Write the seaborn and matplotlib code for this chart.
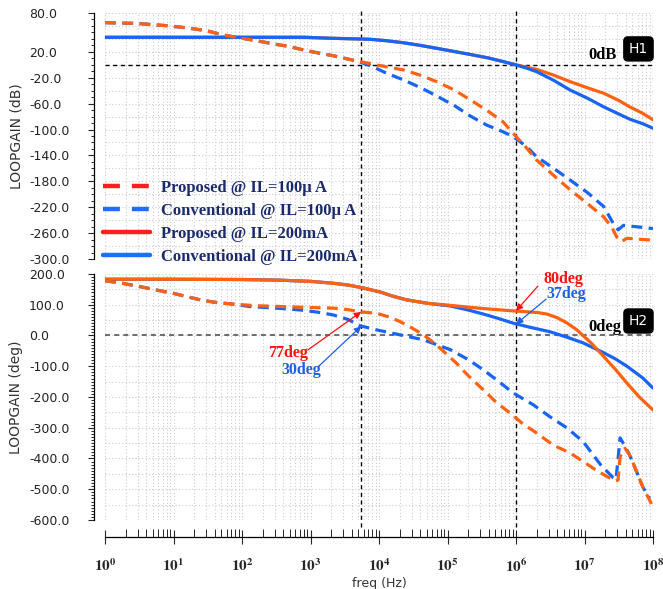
import numpy as np
import matplotlib
matplotlib.use('Agg')
import matplotlib.pyplot as plt
import seaborn as sns
from matplotlib.lines import Line2D
from matplotlib.font_manager import FontProperties
from matplotlib.ticker import FixedLocator, MultipleLocator, FuncFormatter, LogLocator, NullFormatter

# ---------------- data (log10 of frequency in Hz) ----------------
# Loop gain magnitude (dB)
mag_p100_logf = [0, 0.45, 0.9, 1.2, 1.48, 1.73, 2.0, 2.21, 2.45, 2.7, 2.94, 3.33, 3.67, 3.87, 4.0,
                 4.2, 4.36, 4.6, 4.84, 5.1, 5.33, 5.57, 5.81, 5.96, 6.15, 6.3, 6.55, 6.79, 7.05,
                 7.28, 7.4, 7.47, 7.54, 7.62, 8.0]
mag_p100_db = [65, 64, 60.4, 57, 52.7, 46, 41, 37.2, 32.5, 28, 21.8, 14, 5.9, 2, -1,
               -5, -8, -16, -26, -39, -54, -70, -88, -106, -128, -147, -171, -193, -215,
               -235, -251, -266, -273, -268, -271]

mag_c100_logf = [0, 0.45, 0.9, 1.2, 1.48, 1.73, 2.0, 2.21, 2.45, 2.7, 2.94, 3.33, 3.67, 3.87, 4.11,
                 4.36, 4.6, 4.84, 5.1, 5.33, 5.57, 5.8, 5.96, 6.15, 6.3, 6.55, 6.79, 7.05, 7.28,
                 7.42, 7.49, 7.57, 8.0]
mag_c100_db = [65, 64, 60.4, 57, 52.7, 46, 41, 37.2, 32.5, 28, 21.8, 14, 5.9, -1, -13,
               -23.5, -35, -48, -63, -79, -93, -103, -111, -126, -142, -160, -178, -198, -219,
               -245, -255, -248, -253]

mag_p200_logf = [0, 1, 2, 2.9, 3.3, 3.87, 4.1, 4.36, 4.6, 4.84, 5.1, 5.33, 5.6, 5.81, 5.96, 6.15,
                 6.3, 6.55, 6.79, 7.0, 7.28, 7.5, 7.66, 7.85, 8.0]
mag_p200_db = [42.5, 42.5, 42.5, 42.5, 41, 39.4, 37.3, 34, 30, 25.5, 20.5, 16, 10.5, 5, 1, -3.5,
               -7, -16, -26, -34, -44, -55, -65, -75, -85]

mag_c200_logf = [0, 1, 2, 2.9, 3.3, 3.87, 4.1, 4.36, 4.6, 4.84, 5.1, 5.33, 5.6, 5.81, 5.96, 6.15,
                 6.3, 6.55, 6.79, 7.05, 7.28, 7.5, 7.66, 7.85, 8.0]
mag_c200_db = [42.5, 42.5, 42.5, 42.5, 41, 39.4, 37.3, 34, 30, 25.5, 20.5, 16, 10.5, 5, 1, -5,
               -10.6, -24, -39, -52, -65, -76, -84, -91, -98]

# Loop gain phase (deg)
ph_p100_logf = [0, 0.25, 0.51, 0.75, 1.0, 1.2, 1.39, 1.6, 1.87, 2.2, 2.6, 3.0, 3.33, 3.55, 3.72, 3.97,
                4.15, 4.31, 4.5, 4.65, 4.75, 4.89, 5.13, 5.3, 5.52, 5.7, 5.91, 6.1, 6.3, 6.54,
                6.79, 6.98, 7.15, 7.33, 7.45, 7.49, 7.52, 7.59, 7.65, 7.71, 7.85, 8.0]
ph_p100_deg = [178, 170, 159, 148, 137, 126, 116, 108, 102, 97, 94, 91, 89, 84, 77, 72,
               60, 45, 22, 2, -15, -41, -90, -130, -176, -215, -252, -287, -317, -356,
               -382, -410, -435, -459, -473, -470, -394, -367, -385, -415, -492, -557]

ph_c100_logf = [0, 0.25, 0.51, 0.75, 1.0, 1.2, 1.39, 1.6, 1.87, 2.12, 2.5, 2.85, 3.1, 3.33, 3.55,
                3.72, 3.97, 4.31, 4.65, 5.04, 5.3, 5.52, 5.75, 5.96, 6.25, 6.5, 6.74, 6.98, 7.23,
                7.42, 7.46, 7.52, 7.59, 7.65, 7.71, 7.85, 7.95]
ph_c100_deg = [178, 170, 159, 148, 137, 126, 116, 108, 102, 94, 89, 83, 76, 67, 52,
               32, 18, 2, -14, -46, -78, -111, -150, -187, -225, -265, -300, -345, -419,
               -463, -468, -333, -360, -385, -415, -492, -530]

ph_p200_logf = [0, 1, 2, 2.55, 3.0, 3.33, 3.55, 3.72, 4.01, 4.2, 4.4, 4.7, 5.04, 5.5, 5.96, 6.3,
                6.45, 6.6, 6.75, 6.89, 7.1, 7.27, 7.45, 7.62, 7.8, 8.0]
ph_p200_deg = [183, 183, 182, 180, 176, 170, 164, 157, 142, 128, 116, 105, 98, 88, 80, 75,
               70, 58, 40, 18, -25, -66, -110, -155, -200, -242]

ph_c200_logf = [0, 1, 2, 2.55, 3.0, 3.33, 3.55, 3.72, 4.01, 4.2, 4.4, 4.7, 5.04, 5.3, 5.52, 5.75,
                5.96, 6.2, 6.5, 6.75, 6.98, 7.27, 7.45, 7.62, 7.85, 8.0]
ph_c200_deg = [183, 183, 182, 180, 176, 170, 164, 157, 142, 128, 116, 105, 96, 83, 70, 55,
               40, 27, 12, -6, -24, -55, -76, -100, -138, -171]

crossover_freqs = [5.5e3, 1.0e6]       # unity-gain frequencies (Hz)
pm_100 = [77, 30]                      # phase margins at IL=100uA (proposed, conventional)
pm_200 = [80, 37]                      # phase margins at IL=200mA (proposed, conventional)

legend_labels = ['Proposed @ IL=100µ A', 'Conventional @ IL=100µ A',
                 'Proposed @ IL=200mA', 'Conventional @ IL=200mA']
mag_ticks = [80, 20, -20, -60, -100, -140, -180, -220, -260, -300]
phase_ticks = [200, 100, 0, -100, -200, -300, -400, -500, -600]

# ---------------- styling ----------------
ORANGE = '#FF6212'
BLUE = '#1764F5'
LEG_RED = '#FF1E1E'
LEG_BLUE = '#1E6EFF'
NAVY = '#1B2A6B'
GRID_C = '#cccccc'
GRID_LS = (0, (1, 2.0))
DASH = (0, (3.4, 2.0))
XDASH = (0, (3, 2.5))

sns.set_style('white')
plt.rcParams['font.family'] = ['DejaVu Sans']
plt.rcParams['mathtext.fontset'] = 'stix'

W, H = 663, 589
fig = plt.figure(figsize=(W / 100, H / 100), dpi=100)


def px_axes(x0, y0, x1, y1):
    return fig.add_axes([x0 / W, 1 - y1 / H, (x1 - x0) / W, (y1 - y0) / H])


ax1 = px_axes(105, 13, 653, 259)
ax2 = px_axes(105, 274, 653, 520)

for ax in (ax1, ax2):
    ax.set_facecolor('white')
    ax.set_xscale('log')
    ax.set_xlim(1, 1e8)
    for s in ('top', 'right'):
        ax.spines[s].set_visible(False)
    ax.spines['left'].set_position(('outward', 8))
    ax.spines['left'].set_color('black')
    ax.spines['left'].set_linewidth(0.9)
    ax.xaxis.set_major_locator(LogLocator(base=10, numticks=20))
    ax.xaxis.set_minor_locator(LogLocator(base=10, subs=np.arange(2, 10), numticks=200))
    ax.xaxis.set_minor_formatter(NullFormatter())
    ax.grid(True, which='both', axis='x', color=GRID_C, ls=GRID_LS, lw=0.8)
    ax.set_axisbelow(True)
    ax.tick_params(axis='y', which='major', direction='out', length=4.5, width=0.8,
                   pad=42.2, labelsize=9, labelcolor='#222222', left=True)
    ax.tick_params(axis='y', which='minor', direction='out', length=2.5, width=0.7, left=True)

ax1.set_ylim(-300, 80)
ax2.set_ylim(-600, 200)
ax1.yaxis.set_major_locator(FixedLocator(mag_ticks))
ax1.yaxis.set_minor_locator(MultipleLocator(10))
ax2.yaxis.set_major_locator(FixedLocator(phase_ticks))
ax2.yaxis.set_minor_locator(MultipleLocator(10))
for ax in (ax1, ax2):
    ax.yaxis.set_major_formatter(FuncFormatter(lambda v, p: '%.1f' % v))

# horizontal grid
for v in np.arange(-300, 81, 20):
    ax1.axhline(v, color=GRID_C, ls=GRID_LS, lw=0.8, zorder=0)
for v in np.arange(-600, 201, 50):
    ax2.axhline(v, color=GRID_C, ls=GRID_LS, lw=0.8, zorder=0)

# x axes
ax1.spines['bottom'].set_visible(False)
ax1.tick_params(axis='x', which='both', bottom=False, labelbottom=False)
ax2.spines['bottom'].set_position(('outward', 12))
ax2.spines['bottom'].set_color('black')
ax2.spines['bottom'].set_linewidth(0.9)
ax2.tick_params(axis='x', which='major', direction='inout', length=10, width=0.8,
                pad=10, labelsize=11, bottom=True)
ax2.tick_params(axis='x', which='minor', direction='in', length=6, width=0.7, bottom=True)
ax2.xaxis.set_major_formatter(FuncFormatter(
    lambda v, p: r'$\mathbf{10^{%d}}$' % int(round(np.log10(v)))))


# ---------------- curves ----------------
def draw(ax, logf, vals, color, dashed, z):
    f = 10.0 ** np.asarray(logf, dtype=float)
    sns.lineplot(x=f, y=vals, ax=ax, color=color, lw=2.3,
                 linestyle=DASH if dashed else '-', legend=False, zorder=z,
                 sort=False, estimator=None)


draw(ax1, mag_p200_logf, mag_p200_db, ORANGE, False, 3)
draw(ax1, mag_c200_logf, mag_c200_db, BLUE, False, 4)
draw(ax1, mag_c100_logf, mag_c100_db, BLUE, True, 5)
draw(ax1, mag_p100_logf, mag_p100_db, ORANGE, True, 6)

draw(ax2, ph_c200_logf, ph_c200_deg, BLUE, False, 3)
draw(ax2, ph_p200_logf, ph_p200_deg, ORANGE, False, 4)
draw(ax2, ph_c100_logf, ph_c100_deg, BLUE, True, 5)
draw(ax2, ph_p100_logf, ph_p100_deg, ORANGE, True, 6)

for ax in (ax1, ax2):
    ax.set_xlabel('')
    ax.set_ylabel('')

# crosshair lines
ax1.axhline(0, color='black', ls=XDASH, lw=1.0, zorder=2)
ax2.axhline(0, color='#555555', ls=XDASH, lw=1.2, zorder=2)
for fc in crossover_freqs:
    ax1.axvline(fc, ymin=-0.065, ymax=1.012, color='black', ls=XDASH, lw=1.0,
                zorder=2, clip_on=False)
    ax2.axvline(fc, ymin=-0.028, ymax=1.0, color='black', ls=XDASH, lw=1.0,
                zorder=2, clip_on=False)

# axis labels
ax1.set_ylabel('LOOPGAIN (dB)', fontsize=10, color='#333333')
ax2.set_ylabel('LOOPGAIN (deg)', fontsize=10, color='#333333')
ax1.yaxis.set_label_coords(-0.1496, 0.5)
ax2.yaxis.set_label_coords(-0.1496, 0.5)
ax2.set_xlabel('freq (Hz)', fontsize=9, color='#333333')
ax2.xaxis.set_label_coords(0.5, -0.232)

for ax in (ax1, ax2):
    for t in ax.get_yticklabels():
        t.set_horizontalalignment('left')

# legend
serif_b = FontProperties(family=['Liberation Serif', 'DejaVu Serif'], weight='bold', size=12)
leg_dash = (0, (3.8, 2.7))
handles = [Line2D([], [], color=LEG_RED, lw=3.2, ls=leg_dash),
           Line2D([], [], color=LEG_BLUE, lw=3.2, ls=leg_dash),
           Line2D([], [], color=LEG_RED, lw=3.2),
           Line2D([], [], color=LEG_BLUE, lw=3.2)]
leg = ax1.legend(handles, legend_labels, loc='upper left',
                 bbox_to_anchor=(103 / W, 1 - 180 / H), bbox_transform=fig.transFigure,
                 frameon=False, prop=serif_b, handlelength=2.8, handletextpad=0.7,
                 labelspacing=0.42, borderpad=0, borderaxespad=0)
for t in leg.get_texts():
    t.set_color(NAVY)

# annotations
ann_font = dict(family=['Liberation Serif', 'DejaVu Serif'], weight='bold', fontsize=12)
pm_font = dict(family=['Liberation Serif', 'DejaVu Serif'], weight='bold', fontsize=11.5)
ax1.text(0.908, 0.829, '0dB', transform=ax1.transAxes, ha='center', va='center',
         color='black', **ann_font)
ax2.text(0.912, 0.785, '0deg', transform=ax2.transAxes, ha='center', va='center',
         color='black', **ann_font)
box = dict(boxstyle='round,pad=0.36,rounding_size=0.3', fc='black', ec='black')
ax1.text(0.9735, 0.854, 'H1', transform=ax1.transAxes, ha='center', va='center',
         color='white', fontsize=10, bbox=box, zorder=10)
ax2.text(0.9735, 0.809, 'H2', transform=ax2.transAxes, ha='center', va='center',
         color='white', fontsize=10, bbox=box, zorder=10)

RED_T = '#FF1010'
BLUE_T = '#1E60E8'
ann = [
    (crossover_freqs[1], pm_200[0], RED_T, (0.836, 0.978), (0.790, 0.951)),
    (crossover_freqs[1], pm_200[1], BLUE_T, (0.841, 0.917), (0.805, 0.898)),
    (crossover_freqs[0], pm_100[0], RED_T, (0.334, 0.679), (0.370, 0.691)),
    (crossover_freqs[0], pm_100[1], BLUE_T, (0.358, 0.610), (0.389, 0.623)),
]
for fx, pm, col, tpos, tail in ann:
    ax2.text(tpos[0], tpos[1], '%ddeg' % pm, transform=ax2.transAxes, ha='center',
             va='center', color=col, zorder=10, **pm_font)
    ax2.annotate('', xy=(fx, pm), xycoords='data', xytext=tail, textcoords='axes fraction',
                 arrowprops=dict(arrowstyle='-|>', color=col, lw=0.9, mutation_scale=10,
                                 shrinkA=0, shrinkB=0), zorder=10)

fig.savefig('out.png', dpi=100, facecolor='white')
